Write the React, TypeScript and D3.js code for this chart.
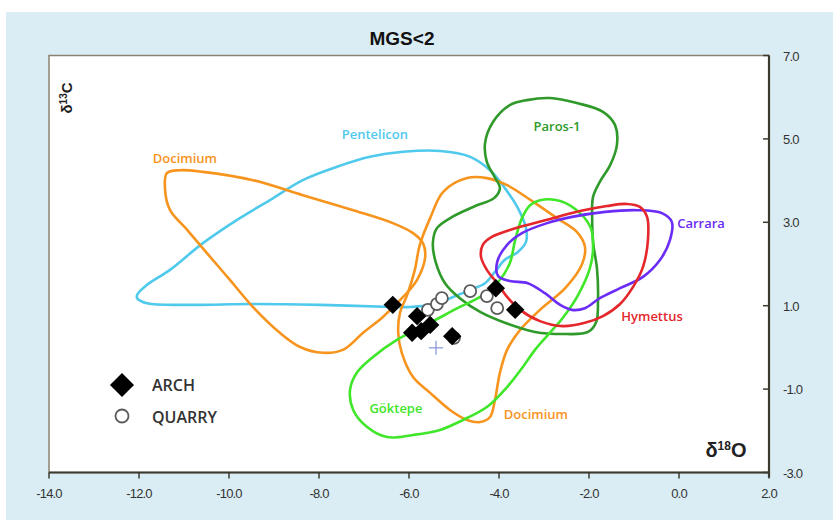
import React from "react";
import * as d3 from "d3";

// δ18O / δ13C isotope fields for marble sources, with sample points.
type Pt = [number, number];

const pentelicon: Pt[] = [[-12.04,1.26],[-11.82,1.50],[-11.31,1.86],[-10.58,2.50],[-9.82,3.06],[-9.09,3.53],[-8.36,4.01],[-7.60,4.33],[-6.87,4.57],[-6.13,4.69],[-5.31,4.71],[-4.64,4.57],[-4.20,4.25],[-3.87,3.82],[-3.58,3.34],[-3.40,2.86],[-3.40,2.53],[-3.58,2.29],[-3.87,2.10],[-4.09,1.81],[-4.31,1.54],[-4.64,1.38],[-5.02,1.21],[-5.42,1.04],[-5.98,0.97],[-6.36,0.97],[-7.98,1.02],[-9.47,1.04],[-10.93,1.02],[-11.82,1.06],[-12.04,1.18]];

const docimiumWest: Pt[] = [[-11.38,4.18],[-11.42,3.77],[-11.31,3.29],[-10.93,2.82],[-10.49,2.26],[-9.98,1.62],[-9.47,0.97],[-8.87,0.35],[-8.42,0.01],[-7.91,-0.13],[-7.47,-0.06],[-7.02,0.35],[-6.58,0.73],[-6.13,1.21],[-5.82,1.62],[-5.64,2.17],[-5.69,2.50],[-5.91,2.74],[-6.36,2.98],[-7.24,3.29],[-8.36,3.65],[-9.47,4.01],[-10.58,4.21],[-11.09,4.25]];

const docimiumEast: Pt[] = [[-4.71,4.06],[-4.27,4.06],[-3.82,3.89],[-3.24,3.49],[-2.71,3.10],[-2.27,2.77],[-2.09,2.41],[-2.16,1.98],[-2.53,1.42],[-3.09,0.90],[-3.53,0.42],[-3.82,-0.06],[-3.98,-0.61],[-4.09,-1.26],[-4.20,-1.67],[-4.42,-1.79],[-4.71,-1.74],[-5.09,-1.50],[-5.53,-1.09],[-5.91,-0.71],[-6.16,-0.13],[-6.24,0.35],[-6.20,0.83],[-6.04,1.26],[-5.87,1.86],[-5.76,2.46],[-5.53,3.10],[-5.24,3.73]];

const paros1: Pt[] = [[-3.38,5.93],[-2.87,5.98],[-2.27,5.86],[-1.69,5.65],[-1.42,5.33],[-1.38,4.85],[-1.53,4.37],[-1.76,3.97],[-1.91,3.61],[-1.93,3.10],[-1.91,2.53],[-1.82,1.86],[-1.80,1.14],[-1.84,0.61],[-2.02,0.37],[-2.53,0.32],[-3.20,0.37],[-3.87,0.59],[-4.42,0.85],[-4.87,1.18],[-5.20,1.54],[-5.40,2.02],[-5.47,2.50],[-5.38,2.86],[-5.04,3.13],[-4.53,3.39],[-4.11,3.58],[-3.98,3.82],[-4.11,4.11],[-4.27,4.45],[-4.31,4.90],[-4.13,5.41],[-3.76,5.81]];

const goktepe: Pt[] = [[-3.09,3.53],[-2.64,3.51],[-2.20,3.22],[-1.96,2.86],[-1.91,2.38],[-1.98,1.90],[-2.24,1.26],[-2.58,0.71],[-2.91,0.30],[-3.20,-0.06],[-3.47,-0.47],[-3.82,-0.95],[-4.27,-1.43],[-4.80,-1.74],[-5.31,-1.98],[-5.91,-2.10],[-6.49,-2.15],[-6.93,-1.91],[-7.24,-1.50],[-7.31,-1.02],[-7.16,-0.61],[-6.80,-0.23],[-6.27,0.18],[-5.53,0.59],[-4.87,0.97],[-4.42,1.21],[-4.04,1.54],[-3.76,2.02],[-3.64,2.58],[-3.49,3.10],[-3.31,3.41]];

const carrara: Pt[] = [[-4.04,2.05],[-3.82,2.46],[-3.49,2.74],[-2.93,2.98],[-2.38,3.13],[-1.64,3.25],[-0.93,3.29],[-0.38,3.22],[-0.16,3.01],[-0.20,2.58],[-0.42,2.10],[-0.80,1.69],[-1.31,1.42],[-1.76,1.18],[-2.09,0.94],[-2.38,0.90],[-2.64,1.02],[-2.98,1.30],[-3.36,1.54],[-3.76,1.59],[-4.02,1.71]];

const hymettus: Pt[] = [[-4.36,2.46],[-4.40,2.17],[-4.27,1.86],[-4.04,1.54],[-3.82,1.21],[-3.53,0.90],[-3.09,0.63],[-2.58,0.51],[-2.09,0.59],[-1.69,0.75],[-1.31,1.04],[-1.02,1.45],[-0.80,1.93],[-0.69,2.58],[-0.71,3.13],[-0.87,3.37],[-1.16,3.44],[-1.60,3.39],[-2.20,3.27],[-2.93,3.06],[-3.69,2.84],[-4.16,2.65]];

const archSamples: Pt[] = [[-6.36,1.02],[-5.82,0.75],[-5.93,0.35],[-5.73,0.39],[-5.53,0.54],[-5.04,0.27],[-4.07,1.42],[-3.64,0.90]];
const quarrySamples: Pt[] = [[-5.58,0.90],[-5.38,1.04],[-5.27,1.18],[-4.64,1.35],[-4.27,1.23],[-4.04,0.94],[-5.00,0.23]];
const meanMarker: Pt = [-5.40, -0.01];

const xTicks = [-14, -12, -10, -8, -6, -4, -2, 0, 2];
const yTicks = [7, 5, 3, 1, -1, -3];

const fields = [
  { name: "Pentelicon", pts: pentelicon, color: "#4fc9ec" },
  { name: "Docimium", pts: docimiumWest, color: "#f7941d" },
  { name: "Docimium", pts: docimiumEast, color: "#f7941d" },
  { name: "Paros-1", pts: paros1, color: "#2f9a2a" },
  { name: "Göktepe", pts: goktepe, color: "#40e629" },
  { name: "Carrara", pts: carrara, color: "#6b2cf5" },
  { name: "Hymettus", pts: hymettus, color: "#e5262b" },
];

const fieldLabels = [
  { text: "Pentelicon", at: [-6.76, 5.0] as Pt, color: "#4fc9ec" },
  { text: "Docimium", at: [-10.98, 4.42] as Pt, color: "#f7941d" },
  { text: "Paros-1", at: [-2.71, 5.19] as Pt, color: "#2f9a2a" },
  { text: "Carrara", at: [0.49, 2.86] as Pt, color: "#6b2cf5" },
  { text: "Hymettus", at: [-0.6, 0.63] as Pt, color: "#e5262b" },
  { text: "Göktepe", at: [-6.29, -1.57] as Pt, color: "#40e629" },
  { text: "Docimium", at: [-3.18, -1.72] as Pt, color: "#f7941d" },
];

const W = 833, H = 525;
const plot = { left: 49, right: 769, top: 55.5, bottom: 472.5 };

export default function App() {
  const x = d3.scaleLinear().domain([-14, 2]).range([plot.left, plot.right]);
  const y = d3.scaleLinear().domain([-3, 7]).range([plot.bottom, plot.top]);
  const line = d3
    .line<Pt>()
    .x((d) => x(d[0]))
    .y((d) => y(d[1]))
    .curve(d3.curveCatmullRomClosed.alpha(0.5));
  const diamond = d3.symbol().type(d3.symbolSquare);
  const labelFont = "'Open Sans', Lato, sans-serif";
  const axisFont = "'Liberation Sans', Arial, sans-serif";

  return (
    <div style={{ position: "absolute", left: 0, top: 0, width: W, height: H, background: "#fff" }}>
      <svg width={W} height={H} style={{ display: "block" }}>
        <rect x={6} y={12} width={W - 6} height={508} fill="#dbedf4" />
        <text x={402} y={45} textAnchor="middle" fontFamily={axisFont} fontWeight="bold" fontSize={19} fill="#111">
          MGS&lt;2
        </text>
        <rect
          x={plot.left}
          y={plot.top}
          width={plot.right - plot.left}
          height={plot.bottom - plot.top}
          fill="#fff"
          stroke="#8a8270"
          strokeWidth={1.5}
        />

        {fields.map((f, i) => (
          <path key={i} d={line(f.pts) ?? ""} fill="none" stroke={f.color} strokeWidth={2.6} />
        ))}

        {fieldLabels.map((l, i) => (
          <text
            key={i}
            x={x(l.at[0])}
            y={y(l.at[1])}
            textAnchor="middle"
            fontFamily={labelFont}
            fontWeight={600}
            fontSize={13}
            fill={l.color}
          >
            {l.text}
          </text>
        ))}

        {/* mean marker */}
        <g stroke="#8c9bd6" strokeWidth={1.3}>
          <line x1={x(meanMarker[0]) - 7} x2={x(meanMarker[0]) + 7} y1={y(meanMarker[1])} y2={y(meanMarker[1])} />
          <line x1={x(meanMarker[0])} x2={x(meanMarker[0])} y1={y(meanMarker[1]) - 7} y2={y(meanMarker[1]) + 7} />
        </g>

        {quarrySamples.map((d, i) => (
          <circle key={i} cx={x(d[0])} cy={y(d[1])} r={6} fill="#fff" stroke="#5a5a5a" strokeWidth={1.8} />
        ))}
        {archSamples.map((d, i) => (
          <path
            key={i}
            d={diamond.size(170)() ?? ""}
            transform={`translate(${x(d[0])},${y(d[1])}) rotate(45)`}
            fill="#000"
          />
        ))}

        {/* legend */}
        <path d={diamond.size(290)() ?? ""} transform="translate(122,385) rotate(45)" fill="#000" />
        <text x={152} y={391} fontFamily={labelFont} fontSize={16} fontWeight={600} fill="#333">ARCH</text>
        <circle cx={122} cy={416} r={6.5} fill="#fff" stroke="#5a5a5a" strokeWidth={1.8} />
        <text x={152} y={423} fontFamily={labelFont} fontSize={16} fontWeight={600} fill="#333">QUARRY</text>

        {/* axis titles */}
        <text
          transform={`translate(72,98) rotate(-90)`}
          textAnchor="middle"
          fontFamily={axisFont}
          fontWeight="bold"
          fontSize={15}
          fill="#222"
        >
          δ<tspan fontSize={10} dy={-5}>13</tspan><tspan dy={5}>C</tspan>
        </text>
        <text x={726} y={457} textAnchor="middle" fontFamily={axisFont} fontWeight="bold" fontSize={20} fill="#222">
          δ<tspan fontSize={12} dy={-7}>18</tspan><tspan dy={7}>O</tspan>
        </text>

        {/* bottom axis */}
        <line x1={plot.left} x2={plot.right} y1={plot.bottom} y2={plot.bottom} stroke="#3a3a30" strokeWidth={2.2} />
        {xTicks.map((t) => (
          <g key={t}>
            <line x1={x(t)} x2={x(t)} y1={plot.bottom} y2={plot.bottom + 6} stroke="#3a3a30" strokeWidth={1.5} />
            <text x={x(t)} y={plot.bottom + 25} textAnchor="middle" fontFamily={axisFont} fontSize={13} fill="#333" style={{ letterSpacing: "-0.8px" }}>
              {t.toFixed(1)}
            </text>
          </g>
        ))}

        {/* right axis */}
        <line x1={plot.right} x2={plot.right} y1={plot.top} y2={plot.bottom + 5} stroke="#3a3a30" strokeWidth={2.2} />
        {yTicks.map((t) => (
          <g key={t}>
            <line x1={plot.right - 6} x2={plot.right} y1={y(t)} y2={y(t)} stroke="#3a3a30" strokeWidth={1.5} />
            <text x={783} y={y(t) + 5} fontFamily={axisFont} fontSize={13} fill="#333" style={{ letterSpacing: "-0.8px" }}>
              {t.toFixed(1)}
            </text>
          </g>
        ))}
      </svg>
    </div>
  );
}
